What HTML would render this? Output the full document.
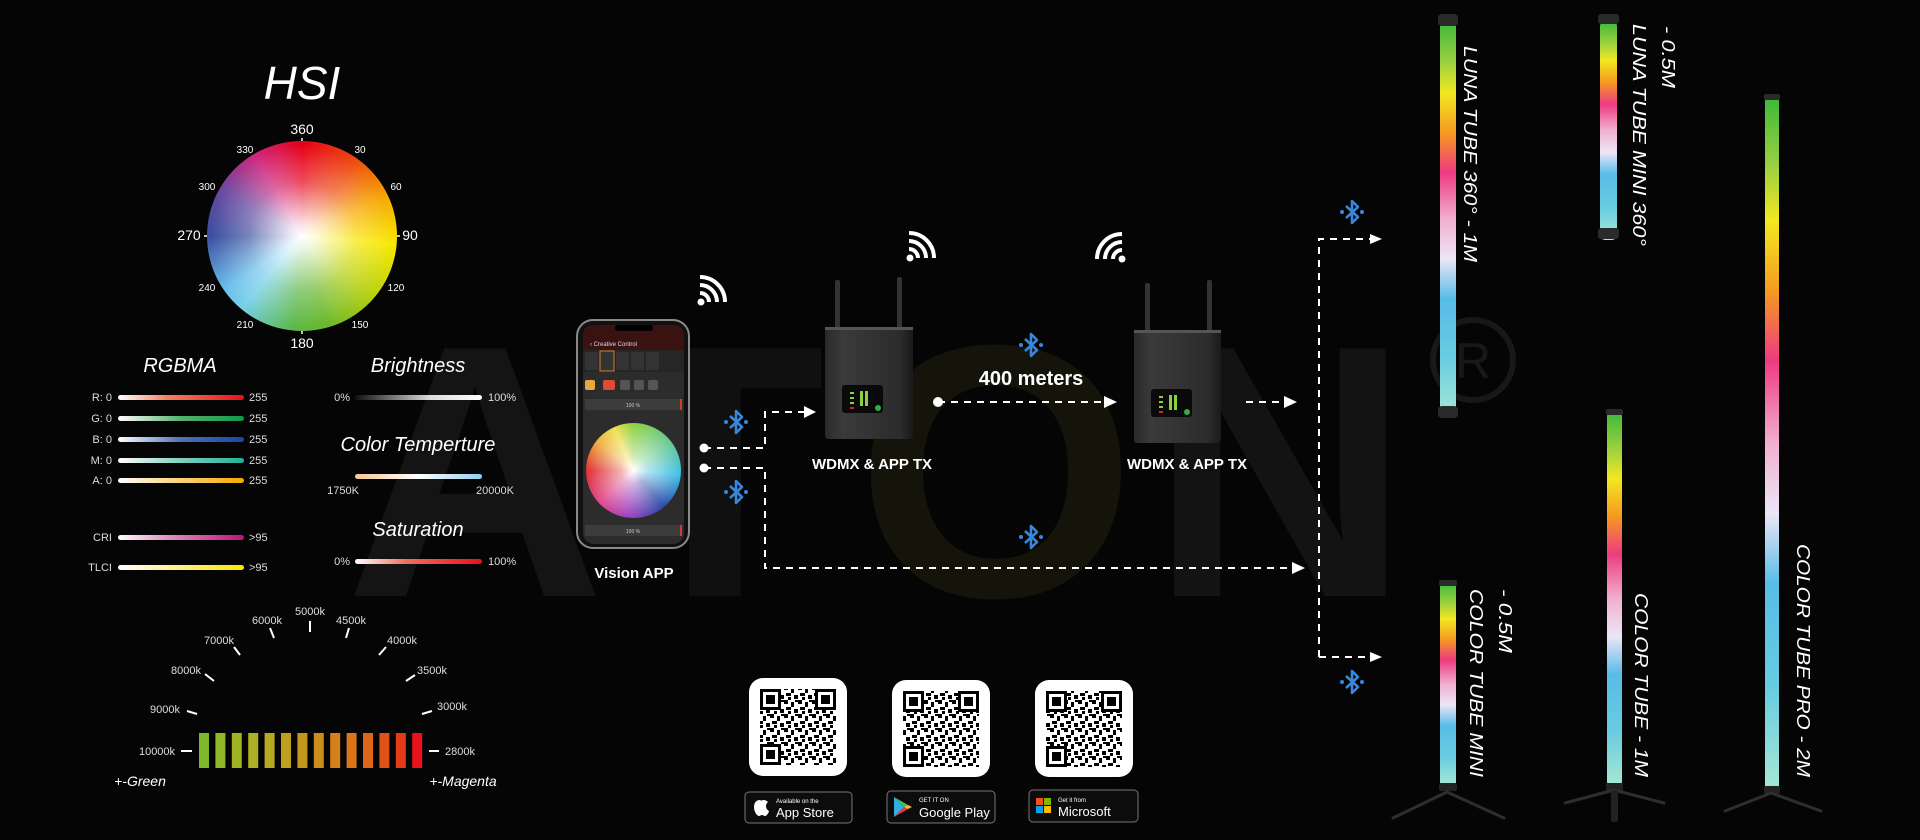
<!DOCTYPE html>
<html><head><meta charset="utf-8">
<style>
html,body{margin:0;padding:0;background:#050505;}
#wrap{position:relative;width:1920px;height:840px;overflow:hidden;background:#050505;font-family:"Liberation Sans",sans-serif;}
.abs{position:absolute;}
#wheel{left:207px;top:141px;width:190px;height:190px;border-radius:50%;
background:radial-gradient(circle at 50% 50%,#fff 0%,rgba(255,255,255,.85) 10%,rgba(255,255,255,.3) 40%,rgba(255,255,255,0) 68%),
conic-gradient(from 0deg,#e60018 0deg,#ee4a10 35deg,#f6a800 65deg,#f8e800 95deg,#b8d010 130deg,#6ab82c 165deg,#5cb84a 185deg,#78d0e8 220deg,#6cc0ec 235deg,#3a4ea0 270deg,#6a4aa0 300deg,#d02880 330deg,#e60018 360deg);}
#pwheel{left:586px;top:423px;width:95px;height:95px;border-radius:50%;
background:radial-gradient(circle,#fff 0%,rgba(255,255,255,.6) 20%,rgba(255,255,255,0) 70%),
conic-gradient(from 0deg,#8cd040,#60c8a0 60deg,#40c0e8 95deg,#2a4aa8 140deg,#9a40c0 185deg,#e04890 225deg,#e03030 270deg,#f0b040 310deg,#f0e050 335deg,#8cd040 360deg);}
</style></head><body><div id="wrap">
<svg class="abs" style="left:0;top:0" width="1920" height="840" viewBox="0 0 1920 840" xmlns="http://www.w3.org/2000/svg" font-family="Liberation Sans, sans-serif">
<defs>
<linearGradient id="tube" x1="0" y1="0" x2="0" y2="1">
<stop offset="0" stop-color="#3cb83a"/><stop offset=".1" stop-color="#9ad040"/><stop offset=".18" stop-color="#f2e820"/><stop offset=".28" stop-color="#f59a20"/><stop offset=".38" stop-color="#ee3a80"/><stop offset=".5" stop-color="#f0b0d0"/><stop offset=".6" stop-color="#ece6f6"/><stop offset=".7" stop-color="#58bce8"/><stop offset=".85" stop-color="#68cce0"/><stop offset="1" stop-color="#a8e8d4"/>
</linearGradient>
<linearGradient id="gR"><stop offset="0" stop-color="#fff"/><stop offset=".4" stop-color="#f08060"/><stop offset="1" stop-color="#e8101a"/></linearGradient>
<linearGradient id="gG"><stop offset="0" stop-color="#fff"/><stop offset=".5" stop-color="#58b070"/><stop offset="1" stop-color="#10984a"/></linearGradient>
<linearGradient id="gB"><stop offset="0" stop-color="#fff"/><stop offset=".5" stop-color="#5070b8"/><stop offset="1" stop-color="#1448a8"/></linearGradient>
<linearGradient id="gM"><stop offset="0" stop-color="#fff"/><stop offset=".5" stop-color="#80d0c0"/><stop offset="1" stop-color="#20b098"/></linearGradient>
<linearGradient id="gA"><stop offset="0" stop-color="#fff"/><stop offset=".4" stop-color="#fcd890"/><stop offset="1" stop-color="#f8a800"/></linearGradient>
<linearGradient id="gC"><stop offset="0" stop-color="#fff"/><stop offset=".4" stop-color="#e090c0"/><stop offset="1" stop-color="#c0107a"/></linearGradient>
<linearGradient id="gT"><stop offset="0" stop-color="#fff"/><stop offset=".4" stop-color="#fff0a0"/><stop offset="1" stop-color="#f8e800"/></linearGradient>
<linearGradient id="gBr"><stop offset="0" stop-color="#111"/><stop offset=".6" stop-color="#ddd"/><stop offset="1" stop-color="#fff"/></linearGradient>
<linearGradient id="gCT"><stop offset="0" stop-color="#f8c890"/><stop offset=".5" stop-color="#fff"/><stop offset="1" stop-color="#90d0f0"/></linearGradient>
<linearGradient id="gS"><stop offset="0" stop-color="#fff"/><stop offset=".4" stop-color="#f07060"/><stop offset="1" stop-color="#e8101a"/></linearGradient>
<linearGradient id="rb" x1="0" y1="0" x2="1" y2="0"><stop offset="0" stop-color="#2a2a2a"/><stop offset=".2" stop-color="#3a3a3a"/><stop offset=".85" stop-color="#2c2c2c"/><stop offset="1" stop-color="#1a1a1a"/></linearGradient>
<pattern id="qr" width="14" height="14" patternUnits="userSpaceOnUse">
<rect width="14" height="14" fill="#fff"/>
<rect x="0" y="0" width="4" height="4" fill="#000"/><rect x="7" y="2" width="3" height="5" fill="#000"/><rect x="2" y="7" width="5" height="3" fill="#000"/><rect x="10" y="9" width="4" height="4" fill="#000"/><rect x="4" y="11" width="3" height="3" fill="#000"/><rect x="11" y="0" width="3" height="2" fill="#000"/>
</pattern>
<g id="bt"><path d="M-6,-6 L6,5 L0,11 L0,-11 L6,-5 L-6,6" fill="none" stroke="#3a86d8" stroke-width="2.6" stroke-linejoin="round"/><circle cx="-10" cy="0" r="2" fill="#3a86d8"/><circle cx="10" cy="0" r="2" fill="#3a86d8"/></g>
<g id="finder"><rect x="0" y="0" width="21" height="21" fill="#000"/><rect x="3" y="3" width="15" height="15" fill="#fff"/><rect x="6" y="6" width="9" height="9" fill="#000"/></g>
</defs>

<!-- watermark -->
<g font-weight="bold" font-size="360">
<text x="345" y="596" fill="#141414">A</text>
<text x="605" y="596" fill="#101010">T</text>
<text x="856" y="596" fill="#15140b">O</text>
<text x="1150" y="596" fill="#131313">N</text>
</g>
<circle cx="1473" cy="360" r="40" fill="none" stroke="#181818" stroke-width="6"/>
<text x="1473" y="378" text-anchor="middle" font-size="50" fill="#181818">R</text>

<!-- HSI -->
<text x="302" y="99" text-anchor="middle" font-size="46" font-style="italic" fill="#fff">HSI</text>
<g fill="#fff" text-anchor="middle">
<text x="302" y="134" font-size="14">360</text>
<text x="302" y="348" font-size="14">180</text>
<text x="189" y="240" font-size="14">270</text>
<text x="410" y="240" font-size="14">90</text>
<g font-size="10">
<text x="245" y="153">330</text><text x="360" y="153">30</text>
<text x="207" y="190">300</text><text x="396" y="190">60</text>
<text x="207" y="291">240</text><text x="396" y="291">120</text>
<text x="245" y="328">210</text><text x="360" y="328">150</text>
</g></g>

<!-- titles -->
<g fill="#fff" font-style="italic" font-size="20" text-anchor="middle">
<text x="180" y="372">RGBMA</text>
<text x="418" y="372">Brightness</text>
<text x="418" y="451">Color Temperture</text>
<text x="418" y="536">Saturation</text>
</g>
<g>
<rect x="118" y="395" width="126" height="5" rx="2.5" fill="url(#gR)"/>
<rect x="118" y="416" width="126" height="5" rx="2.5" fill="url(#gG)"/>
<rect x="118" y="437" width="126" height="5" rx="2.5" fill="url(#gB)"/>
<rect x="118" y="458" width="126" height="5" rx="2.5" fill="url(#gM)"/>
<rect x="118" y="478" width="126" height="5" rx="2.5" fill="url(#gA)"/>
<rect x="118" y="535" width="126" height="5" rx="2.5" fill="url(#gC)"/>
<rect x="118" y="565" width="126" height="5" rx="2.5" fill="url(#gT)"/>
<rect x="355" y="395" width="127" height="5" rx="2.5" fill="url(#gBr)"/>
<rect x="355" y="474" width="127" height="5" rx="2.5" fill="url(#gCT)"/>
<rect x="355" y="559" width="127" height="5" rx="2.5" fill="url(#gS)"/>
</g>
<g fill="#ddd" font-size="11">
<g text-anchor="end">
<text x="112" y="401">R: 0</text><text x="112" y="422">G: 0</text><text x="112" y="443">B: 0</text><text x="112" y="464">M: 0</text><text x="112" y="484">A: 0</text>
<text x="112" y="541">CRI</text><text x="112" y="571">TLCI</text>
<text x="350" y="401">0%</text><text x="350" y="565">0%</text>
</g>
<text x="249" y="401">255</text><text x="249" y="422">255</text><text x="249" y="443">255</text><text x="249" y="464">255</text><text x="249" y="484">255</text>
<text x="249" y="541">&gt;95</text><text x="249" y="571">&gt;95</text>
<text x="488" y="401">100%</text><text x="488" y="565">100%</text>
<text x="343" y="494" text-anchor="middle">1750K</text><text x="495" y="494" text-anchor="middle">20000K</text>
</g>

<!-- CCT -->
<g>
<rect x="199" y="733" width="10" height="35" fill="#7cb82a"/>
<rect x="215.4" y="733" width="10" height="35" fill="#8fb726"/>
<rect x="231.8" y="733" width="10" height="35" fill="#a0b424"/>
<rect x="248.2" y="733" width="10" height="35" fill="#acb023"/>
<rect x="264.6" y="733" width="10" height="35" fill="#b6a821"/>
<rect x="281" y="733" width="10" height="35" fill="#bea01e"/>
<rect x="297.4" y="733" width="10" height="35" fill="#c4971d"/>
<rect x="313.8" y="733" width="10" height="35" fill="#cc8c1c"/>
<rect x="330.2" y="733" width="10" height="35" fill="#d4811b"/>
<rect x="346.6" y="733" width="10" height="35" fill="#da741b"/>
<rect x="363" y="733" width="10" height="35" fill="#de641a"/>
<rect x="379.4" y="733" width="10" height="35" fill="#e0521a"/>
<rect x="395.8" y="733" width="10" height="35" fill="#e43a1a"/>
<rect x="412.2" y="733" width="10" height="35" fill="#e8121a"/>
</g>
<g stroke="#fff" stroke-width="2">
<line x1="181" y1="751" x2="192" y2="751"/><line x1="429" y1="751" x2="439" y2="751"/>
<line x1="187" y1="711" x2="197" y2="714"/><line x1="205" y1="674" x2="214" y2="681"/>
<line x1="234" y1="647" x2="240" y2="655"/><line x1="270" y1="628" x2="274" y2="638"/>
<line x1="310" y1="621" x2="310" y2="632"/><line x1="349" y1="628" x2="346" y2="638"/>
<line x1="386" y1="647" x2="379" y2="655"/><line x1="415" y1="675" x2="406" y2="681"/>
<line x1="432" y1="711" x2="422" y2="714"/>
</g>
<g fill="#ddd" font-size="11" text-anchor="middle">
<text x="310" y="615">5000k</text><text x="267" y="624">6000k</text><text x="351" y="624">4500k</text>
<text x="219" y="644">7000k</text><text x="402" y="644">4000k</text>
<text x="186" y="674">8000k</text><text x="432" y="674">3500k</text>
<text x="165" y="713">9000k</text><text x="452" y="710">3000k</text>
<text x="157" y="755">10000k</text><text x="460" y="755">2800k</text>
</g>
<g fill="#fff" font-size="14" font-style="italic" text-anchor="middle">
<text x="140" y="786">+-Green</text><text x="463" y="786">+-Magenta</text>
</g>

<!-- phone -->
<rect x="577" y="320" width="112" height="228" rx="16" fill="#111" stroke="#8a8a8a" stroke-width="2"/>
<rect x="583" y="325" width="101" height="219" rx="11" fill="#2c2c2c"/>
<path d="M583,336 Q583,325 594,325 L673,325 Q684,325 684,336 L684,350 L583,350 Z" fill="#3a1212"/>
<rect x="615" y="325" width="38" height="6" rx="3" fill="#000"/>
<text x="590" y="346" font-size="6" fill="#ddd">‹ Creative Control</text>
<rect x="583" y="350" width="101" height="22" fill="#262626"/>
<rect x="585" y="352" width="13" height="18" fill="#333"/><rect x="600" y="351" width="14" height="20" fill="#333" stroke="#d08030" stroke-width="1"/>
<rect x="616" y="352" width="13" height="18" fill="#333"/><rect x="631" y="352" width="13" height="18" fill="#333"/><rect x="646" y="352" width="13" height="18" fill="#333"/>
<rect x="585" y="380" width="10" height="10" rx="2" fill="#e8a840"/><rect x="603" y="380" width="12" height="10" rx="2" fill="#e04a30"/>
<rect x="620" y="380" width="10" height="10" rx="2" fill="#555"/><rect x="634" y="380" width="10" height="10" rx="2" fill="#555"/><rect x="648" y="380" width="10" height="10" rx="2" fill="#555"/>
<rect x="585" y="399" width="97" height="11" fill="#3c3c3c"/><rect x="680" y="399" width="2" height="11" fill="#d04020"/>
<rect x="585" y="525" width="97" height="11" fill="#3c3c3c"/><rect x="680" y="525" width="2" height="11" fill="#d04020"/>
<text x="633" y="407" font-size="5" fill="#ccc" text-anchor="middle">100 %</text>
<text x="633" y="533" font-size="5" fill="#ccc" text-anchor="middle">100 %</text>
<text x="634" y="578" font-size="15" font-weight="bold" fill="#fff" text-anchor="middle">Vision APP</text>

<!-- wifi icons -->
<g fill="none" stroke="#fff" stroke-width="4">
<path d="M700,293 A9,9 0 0 1 709,302"/><path d="M700,285 A17,17 0 0 1 717,302"/><path d="M700,277 A25,25 0 0 1 725,302"/>
<path d="M909,249 A9,9 0 0 1 918,258"/><path d="M909,241 A17,17 0 0 1 926,258"/><path d="M909,233 A25,25 0 0 1 934,258"/>
<path d="M1113,259 A9,9 0 0 1 1122,250"/><path d="M1105,259 A17,17 0 0 1 1122,242"/><path d="M1097,259 A25,25 0 0 1 1122,234"/>
</g>
<circle cx="701" cy="302" r="3.5" fill="#fff"/><circle cx="910" cy="258" r="3.5" fill="#fff"/><circle cx="1122" cy="259" r="3.5" fill="#fff"/>

<!-- routers -->
<g>
<rect x="835" y="280" width="5" height="50" rx="2" fill="#333"/><rect x="897" y="277" width="5" height="52" rx="2" fill="#333"/>
<rect x="825" y="327" width="88" height="112" rx="3" fill="url(#rb)"/>
<rect x="825" y="327" width="88" height="3" fill="#555"/>
<rect x="842" y="385" width="41" height="28" rx="3" fill="#0a0a0a"/>
<g fill="#8ad43a"><rect x="850" y="392" width="4" height="2"/><rect x="850" y="397" width="4" height="2"/><rect x="850" y="402" width="4" height="2"/><rect x="860" y="391" width="3" height="15"/><rect x="865" y="391" width="3" height="15"/></g>
<rect x="850" y="407" width="4" height="2" fill="#e02020"/><circle cx="878" cy="408" r="3" fill="#30b040"/>
<rect x="1145" y="283" width="5" height="50" rx="2" fill="#333"/><rect x="1207" y="280" width="5" height="52" rx="2" fill="#333"/>
<rect x="1134" y="330" width="87" height="113" rx="3" fill="url(#rb)"/>
<rect x="1134" y="330" width="87" height="3" fill="#555"/>
<rect x="1151" y="389" width="41" height="28" rx="3" fill="#0a0a0a"/>
<g fill="#8ad43a"><rect x="1159" y="396" width="4" height="2"/><rect x="1159" y="401" width="4" height="2"/><rect x="1159" y="406" width="4" height="2"/><rect x="1169" y="395" width="3" height="15"/><rect x="1174" y="395" width="3" height="15"/></g>
<rect x="1159" y="411" width="4" height="2" fill="#e02020"/><circle cx="1187" cy="412" r="3" fill="#30b040"/>
</g>
<g fill="#fff" font-weight="bold" text-anchor="middle">
<text x="872" y="469" font-size="15">WDMX &amp; APP TX</text>
<text x="1187" y="469" font-size="15">WDMX &amp; APP TX</text>
<text x="1031" y="385" font-size="20">400 meters</text>
</g>

<!-- connectors -->
<g stroke="#fff" stroke-width="2" stroke-dasharray="7,6" fill="none">
<path d="M704,448 L765,448 L765,412 L806,412"/>
<path d="M704,468 L765,468 L765,568 L1294,568"/>
<path d="M938,402 L1108,402"/>
<path d="M1246,402 L1288,402"/>
<path d="M1319,657 L1319,239 L1373,239"/>
<path d="M1319,657 L1373,657"/>
</g>
<g fill="#fff">
<circle cx="704" cy="448" r="4.5"/><circle cx="704" cy="468" r="4.5"/><circle cx="938" cy="402" r="5"/>
<path d="M804,406 L816,412 L804,418 Z"/><path d="M1104,396 L1117,402 L1104,408 Z"/>
<path d="M1284,396 L1297,402 L1284,408 Z"/><path d="M1292,562 L1305,568 L1292,574 Z"/>
<path d="M1370,234 L1382,239 L1370,244 Z"/><path d="M1370,652 L1382,657 L1370,662 Z"/>
</g>
<use href="#bt" x="736" y="422"/><use href="#bt" x="736" y="492"/>
<use href="#bt" x="1031" y="345"/><use href="#bt" x="1031" y="537"/>
<use href="#bt" x="1352" y="212"/><use href="#bt" x="1352" y="682"/>

<!-- QR codes -->
<g>
<rect x="749" y="678" width="98" height="98" rx="14" fill="#fff"/>
<rect x="760" y="689" width="76" height="76" fill="url(#qr)"/>
<use href="#finder" x="760" y="689"/><use href="#finder" x="815" y="689"/><use href="#finder" x="760" y="744"/>
<rect x="892" y="680" width="98" height="97" rx="14" fill="#fff"/>
<rect x="903" y="691" width="76" height="76" fill="url(#qr)"/>
<use href="#finder" x="903" y="691"/><use href="#finder" x="958" y="691"/><use href="#finder" x="903" y="746"/>
<rect x="1035" y="680" width="98" height="97" rx="14" fill="#fff"/>
<rect x="1046" y="691" width="76" height="76" fill="url(#qr)"/>
<use href="#finder" x="1046" y="691"/><use href="#finder" x="1101" y="691"/><use href="#finder" x="1046" y="746"/>
</g>
<g stroke="#777" stroke-width="1" fill="#0c0c0c">
<rect x="745" y="792" width="107" height="31" rx="4"/>
<rect x="887" y="791" width="108" height="32" rx="4"/>
<rect x="1029" y="790" width="109" height="32" rx="4"/>
</g>
<g fill="#fff">
<path d="M760,800 C756,800 754,803 754,807 C754,812 757,816 759,816 C760,816 761,815 762,815 C763,815 764,816 765,816 C767,816 769,812 769,811 C767,810 766,808 766,806 C766,804 767,803 768,802 C767,801 765,800 764,800 C762,800 761,801 760,800 Z"/>
<text x="776" y="803" font-size="6">Available on the</text>
<text x="776" y="817" font-size="13">App Store</text>
<path d="M894,797 L894,817 L904,807 Z" fill="#30b0e0"/><path d="M894,797 L908,805 L904,807 Z" fill="#40c060"/><path d="M894,817 L908,809 L904,807 Z" fill="#e04040"/><path d="M908,805 L912,807 L908,809 L904,807 Z" fill="#f8c020"/>
<text x="919" y="802" font-size="6">GET IT ON</text>
<text x="919" y="817" font-size="13">Google Play</text>
<rect x="1036" y="798" width="7" height="7" fill="#f25022"/><rect x="1044" y="798" width="7" height="7" fill="#7fba00"/><rect x="1036" y="806" width="7" height="7" fill="#00a4ef"/><rect x="1044" y="806" width="7" height="7" fill="#ffb900"/>
<text x="1058" y="802" font-size="6">Get it from</text>
<text x="1058" y="816" font-size="13">Microsoft</text>
</g>

<!-- tubes -->
<g>
<rect x="1440" y="22" width="16" height="395" rx="5" fill="url(#tube)"/>
<rect x="1438" y="14" width="20" height="12" rx="4" fill="#2a2a2a"/><rect x="1438" y="406" width="20" height="12" rx="4" fill="#2a2a2a"/>
<rect x="1600" y="21" width="17" height="219" rx="5" fill="url(#tube)"/>
<rect x="1598" y="14" width="21" height="10" rx="3" fill="#2a2a2a"/><rect x="1598" y="228" width="21" height="11" rx="3" fill="#2a2a2a"/>
<rect x="1765" y="96" width="14" height="696" rx="5" fill="url(#tube)"/>
<rect x="1764" y="94" width="16" height="6" rx="2" fill="#2a2a2a"/><rect x="1764" y="786" width="16" height="8" rx="2" fill="#222"/>
<rect x="1607" y="411" width="15" height="376" rx="5" fill="url(#tube)"/>
<rect x="1606" y="409" width="17" height="6" rx="2" fill="#2a2a2a"/><rect x="1606" y="783" width="17" height="8" rx="2" fill="#222"/>
<rect x="1440" y="582" width="16" height="205" rx="5" fill="url(#tube)"/>
<rect x="1439" y="580" width="18" height="6" rx="2" fill="#2a2a2a"/><rect x="1439" y="783" width="18" height="8" rx="2" fill="#222"/>
</g>
<g stroke="#2e2e2e" stroke-width="3" stroke-linecap="round">
<line x1="1447" y1="792" x2="1393" y2="818"/><line x1="1447" y1="792" x2="1504" y2="818"/>
<line x1="1614" y1="790" x2="1565" y2="803"/><line x1="1614" y1="790" x2="1664" y2="803"/>
<line x1="1771" y1="793" x2="1725" y2="811"/><line x1="1771" y1="793" x2="1821" y2="811"/>
</g>
<rect x="1611" y="790" width="7" height="32" rx="2" fill="#222"/>
<g fill="#fff" font-style="italic" font-size="18">
<text transform="translate(1464,46) rotate(90)" textLength="216" lengthAdjust="spacingAndGlyphs">LUNA TUBE 360° - 1M</text>
<text transform="translate(1633,24) rotate(90)" textLength="222" lengthAdjust="spacingAndGlyphs">LUNA TUBE MINI 360°</text>
<text transform="translate(1662,26) rotate(90)" textLength="62" lengthAdjust="spacingAndGlyphs">- 0.5M</text>
<text transform="translate(1797,544) rotate(90)" textLength="233" lengthAdjust="spacingAndGlyphs">COLOR TUBE PRO - 2M</text>
<text transform="translate(1635,593) rotate(90)" textLength="184" lengthAdjust="spacingAndGlyphs">COLOR TUBE - 1M</text>
<text transform="translate(1470,589) rotate(90)" textLength="188" lengthAdjust="spacingAndGlyphs">COLOR TUBE MINI</text>
<text transform="translate(1499,589) rotate(90)" textLength="64" lengthAdjust="spacingAndGlyphs">- 0.5M</text>
</g>
<g stroke="#fff" stroke-width="1.5">
<line x1="302" y1="138" x2="302" y2="144"/><line x1="302" y1="328" x2="302" y2="334"/>
<line x1="204" y1="236" x2="210" y2="236"/><line x1="394" y1="236" x2="400" y2="236"/>
</g>
</svg>
<div id="wheel" class="abs"></div>
<div id="pwheel" class="abs"></div>
</div></body></html>
